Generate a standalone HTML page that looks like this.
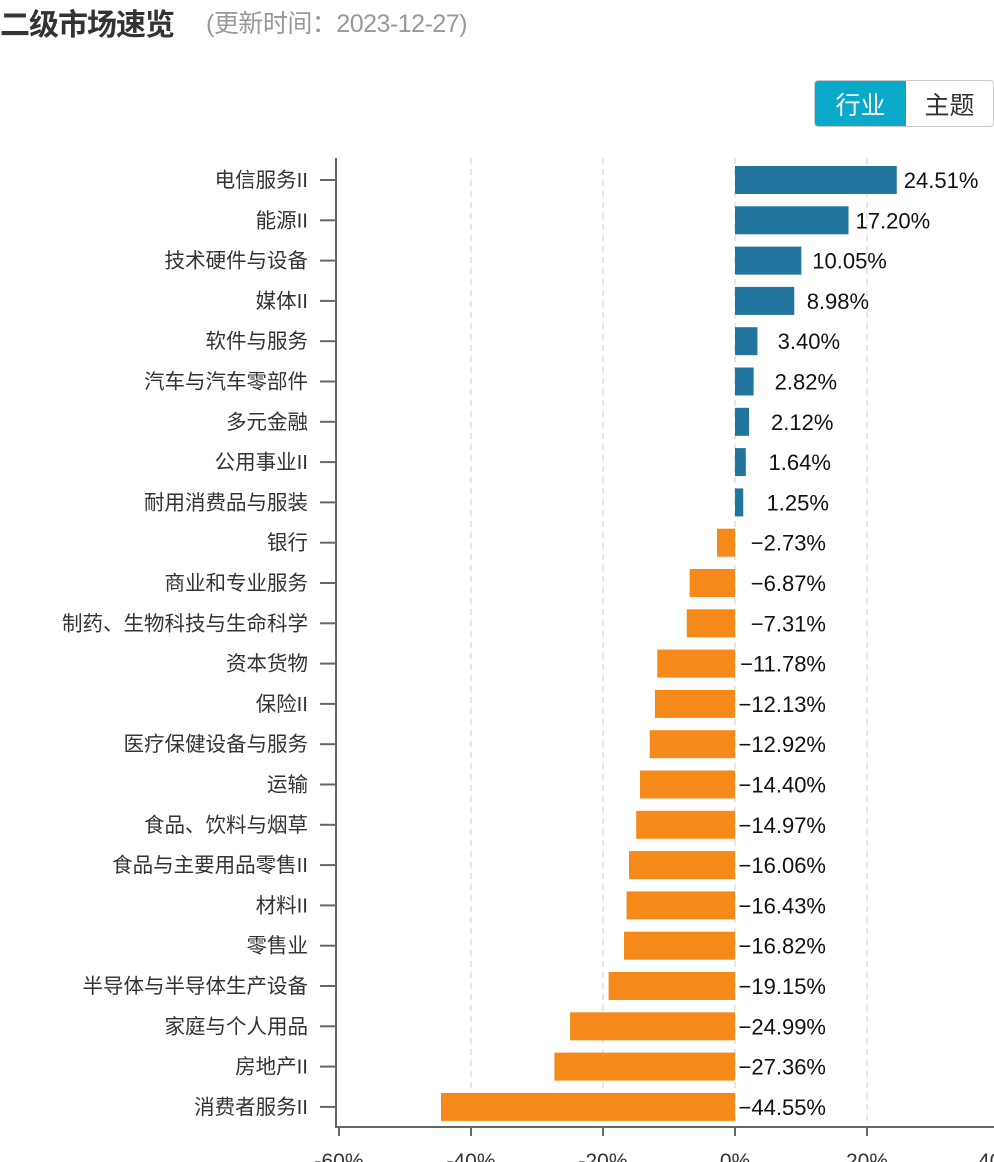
<!DOCTYPE html>
<html><head><meta charset="utf-8"><style>
body{margin:0;width:994px;height:1162px;overflow:hidden;background:#fff;font-family:"Liberation Sans","Noto Sans CJK SC",sans-serif;position:relative}
.t{position:absolute;left:0;top:0px;font-size:30px;font-weight:bold;color:#333;letter-spacing:-1px}
.s{position:absolute;left:206px;top:4px;font-size:25px;color:#999;letter-spacing:-0.5px}
.tg{position:absolute;left:814px;top:80px;width:178px;height:45px;border:1px solid #ccc;border-radius:4px;display:flex;overflow:hidden}
.tg div{flex:1;display:flex;align-items:center;justify-content:center;font-size:25px;color:#333}
.tg .on{background:#0aa9c9;color:#fff;flex:0 0 91px}
svg{position:absolute;left:0;top:0}
</style></head><body>
<div class="t">二级市场速览</div>
<div class="s">(更新时间：2023-12-27)</div>
<div class="tg"><div class="on">行业</div><div>主题</div></div>
<svg id="c" width="994" height="1162"></svg>
<script>
const categories=["电信服务II","能源II","技术硬件与设备","媒体II","软件与服务","汽车与汽车零部件","多元金融","公用事业II","耐用消费品与服装","银行","商业和专业服务","制药、生物科技与生命科学","资本货物","保险II","医疗保健设备与服务","运输","食品、饮料与烟草","食品与主要用品零售II","材料II","零售业","半导体与半导体生产设备","家庭与个人用品","房地产II","消费者服务II"];
const values=[24.51,17.20,10.05,8.98,3.40,2.82,2.12,1.64,1.25,-2.73,-6.87,-7.31,-11.78,-12.13,-12.92,-14.40,-14.97,-16.06,-16.43,-16.82,-19.15,-24.99,-27.36,-44.55];
const ticks=[-60,-40,-20,0,20,40];
const NS="http://www.w3.org/2000/svg",svg=document.getElementById('c');
const x=v=>735+v*6.6, y=i=>180+i*40.3;
function mk(t,a,p){const e=document.createElementNS(NS,t);for(const k in a)e.setAttribute(k,a[k]);(p||svg).appendChild(e);return e;}
ticks.forEach(t=>{if(t!==-60){const g=mk('line',{x1:x(t),x2:x(t),y1:158,y2:1127,stroke:'#ddd','stroke-dasharray':'6,5','stroke-width':1.5});

}
const l=mk('line',{x1:x(t),x2:x(t),y1:1127,y2:1136,stroke:'#666','stroke-width':2});
const tx=mk('text',{x:x(t),y:1168,'text-anchor':'middle','font-size':21,fill:'#333'});tx.textContent=t+'%';

});
mk('line',{x1:336,x2:994,y1:1127,y2:1127,stroke:'#666','stroke-width':2});
mk('line',{x1:336,x2:336,y1:158,y2:1128,stroke:'#666','stroke-width':2});
categories.forEach((c,i)=>{const v=values[i],cy=y(i);
mk('line',{x1:320,x2:336,y1:cy,y2:cy,stroke:'#666','stroke-width':2});
const lb=mk('text',{x:308,y:cy+7,'text-anchor':'end','font-size':20.5,fill:'#333'});lb.textContent=c;


const b=mk('rect',{x:Math.min(x(0),x(v)),y:cy-14,width:Math.abs(x(v)-x(0)),height:28,fill:v>=0?'#22759f':'#f58a1b'});


let vt;
if(v>=0){vt=mk('text',{x:Math.max(x(v)+7,760+v*5.2),y:cy+8,'font-size':22,fill:'#111'});vt.textContent=v.toFixed(2)+'%';}
else{vt=mk('text',{x:826,y:cy+8,'text-anchor':'end','font-size':22,fill:'#111'});vt.textContent='−'+Math.abs(v).toFixed(2)+'%';}

});
</script>
</body></html>
